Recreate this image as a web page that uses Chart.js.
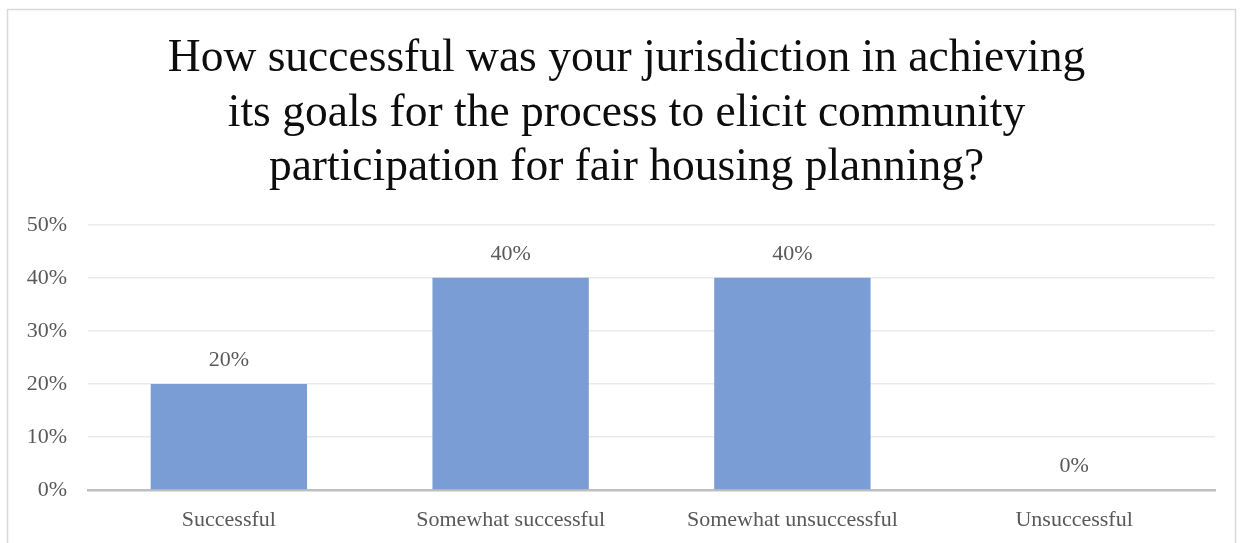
<!DOCTYPE html>
<html>
<head>
<meta charset="utf-8">
<script src="https://cdn.jsdelivr.net/npm/chart.js@4/dist/chart.umd.min.js"></script>
<style>
  html, body { margin: 0; padding: 0; background: #ffffff; }
  #wrap { position: relative; width: 1244px; height: 543px; }
</style>
</head>
<body>
<div id="wrap"><canvas id="chart" width="1244" height="543"></canvas></div>
<script>
const categories = ["Successful", "Somewhat successful", "Somewhat unsuccessful", "Unsuccessful"];
const shares = [20, 40, 40, 0];
const yTicks = [0, 10, 20, 30, 40, 50];
const titleLines = [
  "How successful was your jurisdiction in achieving",
  "its goals for the process to elicit community",
  "participation for fair housing planning?"
];

const SERIF = '"Liberation Serif", "DejaVu Serif", serif';
const LABEL_SIZE = 22;

// Light frame around the whole chart, running past the bottom edge
const framePlugin = {
  id: 'frame',
  beforeDraw(chart) {
    const ctx = chart.ctx;
    ctx.save();
    ctx.strokeStyle = '#d9d9d9';
    ctx.lineWidth = 1.5;
    ctx.strokeRect(7.5, 9.5, 1228, 560);
    ctx.restore();
  }
};

// Percentage labels above each bar
const valueLabels = {
  id: 'valueLabels',
  afterDatasetsDraw(chart) {
    const ctx = chart.ctx;
    const meta = chart.getDatasetMeta(0);
    ctx.save();
    ctx.font = LABEL_SIZE + 'px ' + SERIF;
    ctx.fillStyle = '#595959';
    ctx.textAlign = 'center';
    ctx.textBaseline = 'middle';
    meta.data.forEach((bar, i) => {
      ctx.fillText(shares[i] + '%', bar.x, bar.y - 24);
    });
    ctx.restore();
  }
};

new Chart(document.getElementById('chart'), {
  type: 'bar',
  data: {
    labels: categories,
    datasets: [{
      data: shares,
      backgroundColor: '#7a9dd6',
      borderWidth: 0,
      barPercentage: 0.555,
      categoryPercentage: 1.0
    }]
  },
  options: {
    responsive: false,
    animation: false,
    layout: { padding: { left: 19, right: 10, top: 0, bottom: 0 } },
    plugins: {
      legend: { display: false },
      tooltip: { enabled: false },
      title: {
        display: true,
        text: titleLines,
        color: '#0d0d0d',
        font: { family: SERIF, size: 45.5, weight: 'normal', lineHeight: 1.2 },
        padding: { top: 32, bottom: 29 }
      }
    },
    scales: {
      x: {
        afterFit(scale) { scale.height = 53; },
        grid: { display: false, drawTicks: false },
        border: { display: true, color: '#bfbfbf', width: 2.5 },
        ticks: { color: '#595959', font: { family: SERIF, size: LABEL_SIZE }, padding: 17 }
      },
      y: {
        min: 0,
        max: 50,
        afterFit(scale) { scale.width = 69; },
        afterBuildTicks(scale) { scale.ticks = yTicks.map(v => ({ value: v })); },
        grid: { color: '#ebebeb', lineWidth: 1.5, drawTicks: false },
        border: { display: false },
        ticks: {
          color: '#595959',
          font: { family: SERIF, size: LABEL_SIZE },
          padding: 21,
          callback: v => v + '%'
        }
      },
      // empty right-hand gutter between the plot and the frame
      gutter: {
        axis: 'y',
        position: 'right',
        display: true,
        afterFit(scale) { scale.width = 19; },
        grid: { display: false, drawTicks: false },
        border: { display: false },
        ticks: { display: false }
      }
    }
  },
  plugins: [framePlugin, valueLabels]
});
</script>
</body>
</html>
